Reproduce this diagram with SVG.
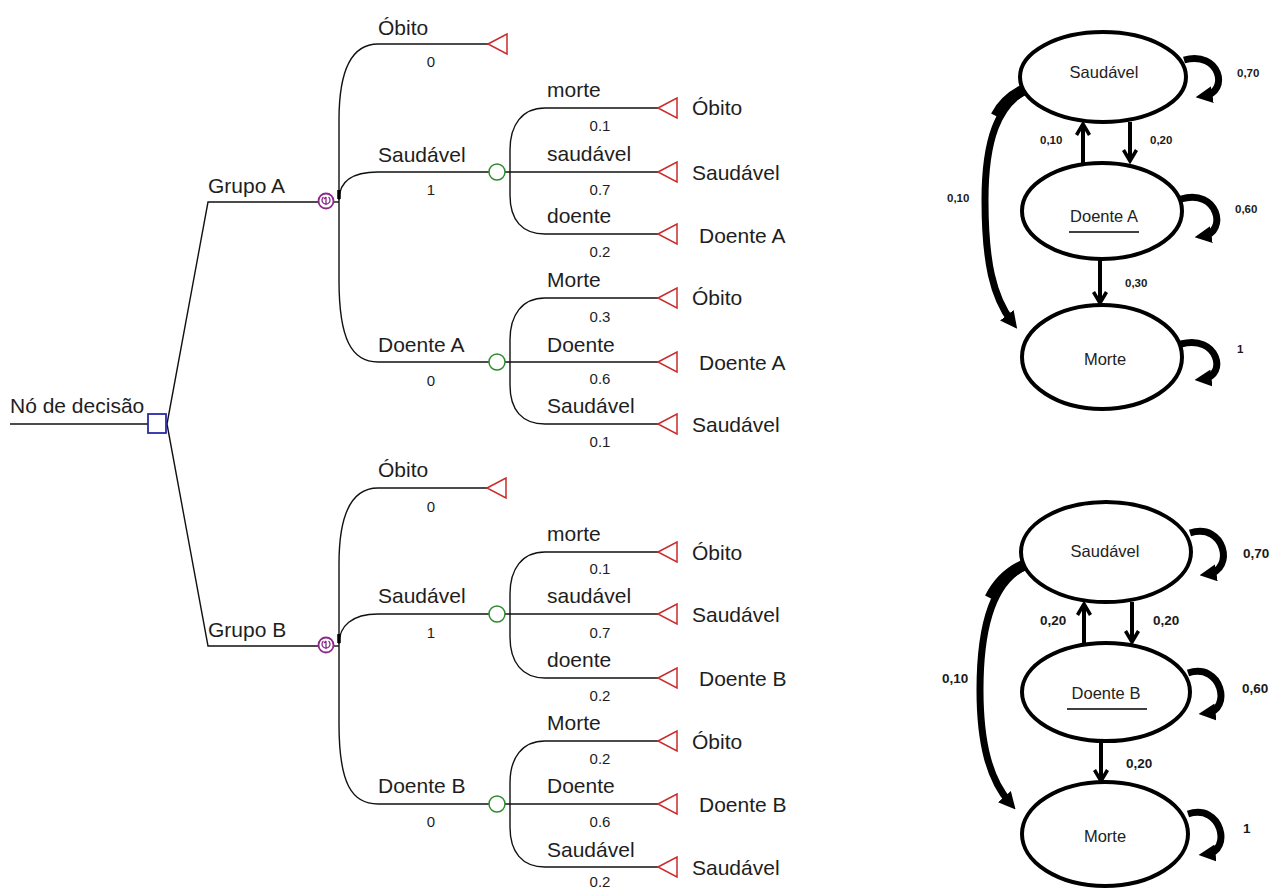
<svg xmlns="http://www.w3.org/2000/svg" width="1279" height="890" viewBox="0 0 1279 890">
<style>
.t{font-family:"Liberation Sans",Arial,sans-serif;font-size:21px;fill:#1e1e1e}
.p{font-family:"Liberation Sans",Arial,sans-serif;font-size:15px;fill:#1e1e1e;text-anchor:middle}
.ln{fill:none;stroke:#111;stroke-width:1.4}
.term{fill:#fff;stroke:#cc2b2b;stroke-width:1.5}
.ch{fill:#fff;stroke:#2e8b2e;stroke-width:1.5}
.mk{fill:#fff;stroke:#8b2a8b;stroke-width:1.8}
.mki{fill:none;stroke:#8b2a8b;stroke-width:1.3}
.dec{fill:#fff;stroke:#2a2aa8;stroke-width:1.8}
.st{fill:#fff;stroke:#000;stroke-width:4}
.sl{font-family:"Liberation Sans",Arial,sans-serif;font-size:16.5px;fill:#222;text-anchor:middle}
.nb{font-family:"Liberation Sans",Arial,sans-serif;font-size:11.5px;font-weight:bold;fill:#1a1a1a}
.nb2{font-family:"Liberation Sans",Arial,sans-serif;font-size:13.5px;font-weight:bold;fill:#1a1a1a}
.ar{fill:none;stroke:#000;stroke-width:4;marker-end:url(#chev)}
.loop{fill:none;stroke:#000;stroke-width:7;marker-end:url(#fat)}
.lng{fill:none;stroke:#000;stroke-width:7;marker-end:url(#fat)}
</style>
<defs>
<marker id="chev" viewBox="0 0 16 16" refX="13" refY="8" markerWidth="16" markerHeight="16" markerUnits="userSpaceOnUse" orient="auto"><path d="M2,1.5 L13,8 L2,14.5" fill="none" stroke="#000" stroke-width="3.5"/></marker>
<marker id="fat" viewBox="0 0 10 10" refX="5" refY="5" markerWidth="17" markerHeight="17" markerUnits="userSpaceOnUse" orient="auto"><path d="M0,0 L10,5 L0,10 z" fill="#000"/></marker>
<g id="tri"><path d="M0,0 L19,-10 L19,10 Z" class="term"/></g>
<g id="mkicon"><circle class="mk" cx="0" cy="0" r="7.5"/><path class="mki" d="M-2.5,-4 A4,4 0 1 0 2.5,-4 M0,-4 L0,4 M-2,-2 L0,-4"/></g>
</defs>

<!-- ======== Decision tree connectors ======== -->
<g id="connectors">
  <path class="ln" d="M10,424 L148,424"/>
  <path class="ln" d="M167,424 L208,202 L318,202"/>
  <path class="ln" d="M167,424 L208,646 L318,646"/>
  <!-- Group A markov branches -->
  <path class="ln" d="M334,202 L339,202"/>
  <path class="ln" d="M378,44 C352,44 339,70 339,120 L339,280 C339,340 352,362 378,362 L489,362"/>
  <path class="ln" d="M339,200 C339,182 352,172 378,172 L489,172"/>
  <path class="ln" d="M378,44 L488,44"/>
  <path d="M339,190 L339,199" stroke="#000" stroke-width="3.5"/>
  <!-- Saudável chance A -->
  <path class="ln" d="M505,172 L658,172"/>
  <path class="ln" d="M545,108 C522,108 510,125 510,150 L510,195 C510,220 522,234 545,234"/>
  <path class="ln" d="M545,108 L658,108 M545,234 L658,234"/>
  <!-- Doente A chance -->
  <path class="ln" d="M505,362 L658,362"/>
  <path class="ln" d="M545,298 C522,298 510,315 510,340 L510,385 C510,410 522,424 545,424"/>
  <path class="ln" d="M545,298 L658,298 M545,424 L658,424"/>
  <!-- Group B markov branches -->
  <path class="ln" d="M334,646 L339,646"/>
  <path class="ln" d="M378,488 C352,488 339,514 339,564 L339,724 C339,784 352,804 378,804 L489,804"/>
  <path class="ln" d="M339,644 C339,626 352,614 378,614 L489,614"/>
  <path class="ln" d="M378,488 L487,488"/>
  <path d="M339,634 L339,643" stroke="#000" stroke-width="3.5"/>
  <!-- Saudável chance B -->
  <path class="ln" d="M505,614 L658,614"/>
  <path class="ln" d="M545,552 C522,552 510,569 510,594 L510,637 C510,662 522,678 545,678"/>
  <path class="ln" d="M545,552 L658,552 M545,678 L658,678"/>
  <!-- Doente B chance -->
  <path class="ln" d="M505,804 L658,804"/>
  <path class="ln" d="M545,741 C522,741 510,758 510,783 L510,827 C510,852 522,867 545,867"/>
  <path class="ln" d="M545,741 L658,741 M545,867 L658,867"/>
</g>

<!-- ======== Decision node ======== -->
<g id="decision">
  <rect class="dec" x="148" y="414" width="18" height="19"/>
  <text class="t" x="10" y="413">Nó de decisão</text>
</g>

<!-- ======== Group A ======== -->
<g id="grupoA">
  <text class="t" x="208" y="193">Grupo A</text>
  <use href="#mkicon" x="326" y="201"/>
</g>
<g id="A-obito">
  <text class="t" x="378" y="35">Óbito</text>
  <text class="p" x="431" y="67">0</text>
  <use href="#tri" x="488" y="44"/>
</g>
<g id="A-saudavel">
  <text class="t" x="378" y="162">Saudável</text>
  <text class="p" x="431" y="195">1</text>
  <circle class="ch" cx="497" cy="172" r="8"/>
</g>
<g id="A-s-morte">
  <text class="t" x="547" y="97">morte</text>
  <text class="p" x="600" y="131">0.1</text>
  <use href="#tri" x="658" y="108"/>
  <text class="t" x="692" y="115">Óbito</text>
</g>
<g id="A-s-saudavel">
  <text class="t" x="547" y="161">saudável</text>
  <text class="p" x="600" y="195">0.7</text>
  <use href="#tri" x="658" y="172"/>
  <text class="t" x="692" y="180">Saudável</text>
</g>
<g id="A-s-doente">
  <text class="t" x="547" y="223">doente</text>
  <text class="p" x="600" y="257">0.2</text>
  <use href="#tri" x="658" y="234"/>
  <text class="t" x="699" y="243">Doente A</text>
</g>
<g id="A-doente">
  <text class="t" x="378" y="352">Doente A</text>
  <text class="p" x="431" y="386">0</text>
  <circle class="ch" cx="497" cy="362" r="8"/>
</g>
<g id="A-d-morte">
  <text class="t" x="547" y="287">Morte</text>
  <text class="p" x="600" y="322">0.3</text>
  <use href="#tri" x="658" y="298"/>
  <text class="t" x="692" y="305">Óbito</text>
</g>
<g id="A-d-doente">
  <text class="t" x="547" y="352">Doente</text>
  <text class="p" x="600" y="384">0.6</text>
  <use href="#tri" x="658" y="362"/>
  <text class="t" x="699" y="370">Doente A</text>
</g>
<g id="A-d-saudavel">
  <text class="t" x="547" y="413">Saudável</text>
  <text class="p" x="600" y="447">0.1</text>
  <use href="#tri" x="658" y="424"/>
  <text class="t" x="692" y="432">Saudável</text>
</g>

<!-- ======== Group B ======== -->
<g id="grupoB">
  <text class="t" x="208" y="637">Grupo B</text>
  <use href="#mkicon" x="326" y="645"/>
</g>
<g id="B-obito">
  <text class="t" x="378" y="477">Óbito</text>
  <text class="p" x="431" y="512">0</text>
  <use href="#tri" x="487" y="488"/>
</g>
<g id="B-saudavel">
  <text class="t" x="378" y="603">Saudável</text>
  <text class="p" x="431" y="638">1</text>
  <circle class="ch" cx="497" cy="614" r="8"/>
</g>
<g id="B-s-morte">
  <text class="t" x="547" y="541">morte</text>
  <text class="p" x="600" y="574">0.1</text>
  <use href="#tri" x="658" y="552"/>
  <text class="t" x="692" y="560">Óbito</text>
</g>
<g id="B-s-saudavel">
  <text class="t" x="547" y="603">saudável</text>
  <text class="p" x="600" y="638">0.7</text>
  <use href="#tri" x="658" y="614"/>
  <text class="t" x="692" y="622">Saudável</text>
</g>
<g id="B-s-doente">
  <text class="t" x="547" y="667">doente</text>
  <text class="p" x="600" y="701">0.2</text>
  <use href="#tri" x="658" y="678"/>
  <text class="t" x="699" y="686">Doente B</text>
</g>
<g id="B-doente">
  <text class="t" x="378" y="793">Doente B</text>
  <text class="p" x="431" y="827">0</text>
  <circle class="ch" cx="497" cy="804" r="8"/>
</g>
<g id="B-d-morte">
  <text class="t" x="547" y="730">Morte</text>
  <text class="p" x="600" y="764">0.2</text>
  <use href="#tri" x="658" y="741"/>
  <text class="t" x="692" y="749">Óbito</text>
</g>
<g id="B-d-doente">
  <text class="t" x="547" y="793">Doente</text>
  <text class="p" x="600" y="827">0.6</text>
  <use href="#tri" x="658" y="804"/>
  <text class="t" x="699" y="812">Doente B</text>
</g>
<g id="B-d-saudavel">
  <text class="t" x="547" y="857">Saudável</text>
  <text class="p" x="600" y="887">0.2</text>
  <use href="#tri" x="658" y="867"/>
  <text class="t" x="692" y="875">Saudável</text>
</g>

<!-- ======== Markov state diagram A ======== -->
<g id="mA-connectors">
  <path class="ar" d="M1083,163 L1083,124"/>
  <path class="ar" d="M1130,122 L1130,161"/>
  <path class="ar" d="M1100,259 L1100,303"/>
  <path class="loop" d="M1184,60 C1220,50 1230,92 1204,96"/>
  <path class="loop" d="M1181,199 C1218,188 1228,232 1203,236"/>
  <path class="loop" d="M1181,344 C1218,334 1228,376 1203,379"/>
  <path class="lng" d="M1027,90 C998,104 985,140 985,200 C985,262 993,297 1012,322"/>
  <path d="M1030,87 C1012,94 1002,104 996,116" fill="none" stroke="#000" stroke-width="11"/>
  <text class="nb" x="1040" y="144">0,10</text>
  <text class="nb" x="1150" y="144">0,20</text>
  <text class="nb" x="1125" y="287">0,30</text>
  <text class="nb" x="947" y="202">0,10</text>
  <text class="nb" x="1237" y="77">0,70</text>
  <text class="nb" x="1235" y="213">0,60</text>
  <text class="nb" x="1237" y="353">1</text>
</g>
<g id="mA-saudavel">
  <ellipse class="st" cx="1103" cy="77" rx="83" ry="45"/>
  <text class="sl" x="1104" y="78">Saudável</text>
</g>
<g id="mA-doente">
  <ellipse class="st" cx="1102" cy="211" rx="80" ry="48"/>
  <text class="sl" x="1104" y="222">Doente A</text>
  <line x1="1069" y1="232" x2="1139" y2="232" stroke="#000" stroke-width="1.5"/>
</g>
<g id="mA-morte">
  <ellipse class="st" cx="1102" cy="357" rx="80" ry="52"/>
  <text class="sl" x="1105" y="365">Morte</text>
</g>

<!-- ======== Markov state diagram B ======== -->
<g id="mB-connectors">
  <path class="ar" d="M1084,644 L1084,604"/>
  <path class="ar" d="M1132,602 L1132,642"/>
  <path class="ar" d="M1101,740 L1101,781"/>
  <path class="loop" d="M1190,533 C1225,522 1235,570 1208,574"/>
  <path class="loop" d="M1188,673 C1222,662 1232,710 1207,713"/>
  <path class="loop" d="M1188,814 C1222,803 1232,851 1207,854"/>
  <path class="lng" d="M1026,566 C995,580 980,620 980,690 C980,745 990,780 1010,803"/>
  <path d="M1029,563 C1010,570 998,582 990,598" fill="none" stroke="#000" stroke-width="11"/>
  <text class="nb2" x="1040" y="625">0,20</text>
  <text class="nb2" x="1153" y="625">0,20</text>
  <text class="nb2" x="1126" y="768">0,20</text>
  <text class="nb2" x="942" y="683">0,10</text>
  <text class="nb2" x="1243" y="558">0,70</text>
  <text class="nb2" x="1242" y="693">0,60</text>
  <text class="nb2" x="1243" y="833">1</text>
</g>
<g id="mB-saudavel">
  <ellipse class="st" cx="1106" cy="552" rx="85" ry="50"/>
  <text class="sl" x="1105" y="557">Saudável</text>
</g>
<g id="mB-doente">
  <ellipse class="st" cx="1106" cy="692" rx="84" ry="49"/>
  <text class="sl" x="1106" y="699">Doente B</text>
  <line x1="1067" y1="709" x2="1147" y2="709" stroke="#000" stroke-width="1.5"/>
</g>
<g id="mB-morte">
  <ellipse class="st" cx="1105" cy="834" rx="83" ry="52"/>
  <text class="sl" x="1105" y="842">Morte</text>
</g>
</svg>
